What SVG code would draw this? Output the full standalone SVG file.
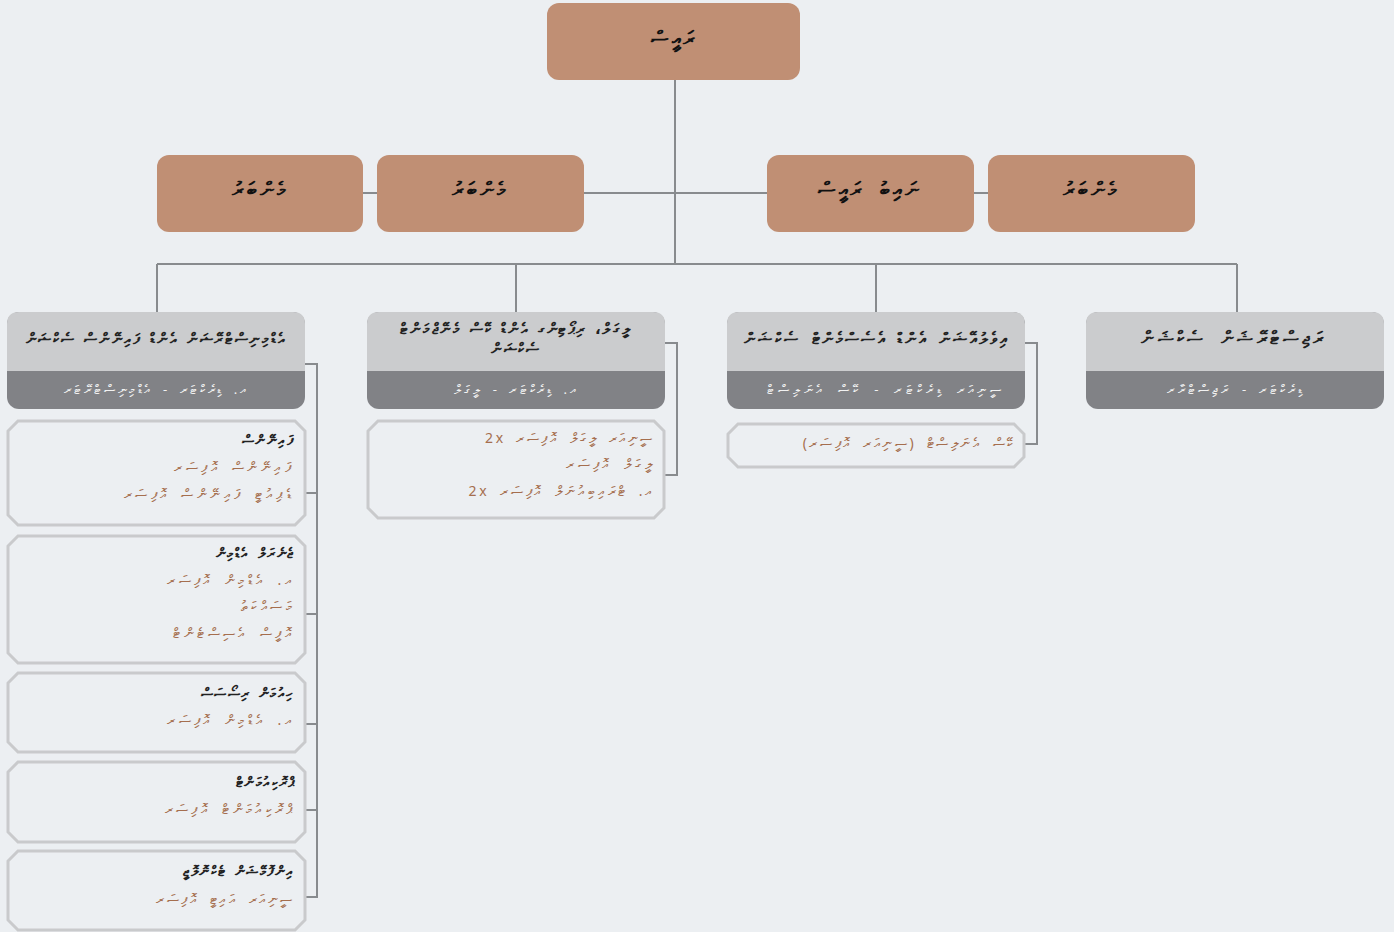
<svg xmlns="http://www.w3.org/2000/svg" width="1394" height="932" viewBox="0 0 1394 932">
<style>
.bg{fill:#ECEFF2}
.node{fill:#C08F74}
.t{font-family:"Noto Sans","DejaVu Sans",sans-serif;direction:rtl}
.nt{font-size:20px;font-weight:bold;fill:#111;text-anchor:middle;letter-spacing:3px;word-spacing:6px}
.hd{fill:#CBCCCE}
.band{fill:#818286}
.ht{font-size:15px;font-weight:bold;fill:#222;text-anchor:middle;letter-spacing:1.7px;word-spacing:3px}
.st{font-size:13px;fill:#F2F2F2;text-anchor:middle;letter-spacing:2.6px;word-spacing:4px}
.lb{fill:#ECEFF2;stroke:#C9CACC;stroke-width:3}
.lh{font-size:14px;font-weight:bold;fill:#222;text-anchor:start;letter-spacing:1.5px;word-spacing:3px}
.li{font-size:14px;fill:#A56E4E;text-anchor:start;letter-spacing:3.4px;word-spacing:4px}
.c{fill:none;stroke:#888B8E;stroke-width:2}
</style>
<rect class="bg" x="0" y="0" width="1394" height="932"/>

<g id="connectors">
<path class="c" d="M675 80 V264"/>
<path class="c" d="M584 193 H767"/>
<path class="c" d="M363 193 H377"/>
<path class="c" d="M974 193 H988"/>
<path class="c" d="M157 264 H1237"/>
<path class="c" d="M157 264 V312 M516 264 V312 M876 264 V312 M1237 264 V312"/>
<path class="c" d="M305 364 H317 V897 H305 M305 493 H317 M305 614 H317 M305 724 H317 M305 810 H317"/>
<path class="c" d="M665 343 H677 V475 H664"/>
<path class="c" d="M1025 343 H1037 V444 H1024"/>
</g>

<g id="n-raees">
<rect class="node" x="547" y="3" width="253" height="77" rx="12"/>
<text class="t nt" x="674" y="45">ރައީސް</text>
</g>
<g id="n-member1">
<rect class="node" x="157" y="155" width="206" height="77" rx="12"/>
<text class="t nt" x="260" y="196">މެންބަރު</text>
</g>
<g id="n-member2">
<rect class="node" x="377" y="155" width="207" height="77" rx="12"/>
<text class="t nt" x="480" y="196">މެންބަރު</text>
</g>
<g id="n-vp">
<rect class="node" x="767" y="155" width="207" height="77" rx="12"/>
<text class="t nt" x="870" y="196">ނައިބު  ރައީސް</text>
</g>
<g id="n-member3">
<rect class="node" x="988" y="155" width="207" height="77" rx="12"/>
<text class="t nt" x="1091" y="196">މެންބަރު</text>
</g>

<g id="s-admin">
<rect class="band" x="7" y="312" width="298" height="97" rx="12"/>
<path class="hd" d="M7 371 V324 Q7 312 19 312 H293 Q305 312 305 324 V371 Z"/>
<text class="t ht" x="156" y="344">އެޑްމިނިސްޓްރޭޝަން އެންޑް ފައިނޭންސް ސެކްޝަން</text>
<text class="t st" x="156" y="394">އ. ޑިރެކްޓަރ - އެޑްމިނިސްޓްރޭޓަރ</text>
</g>
<g id="s-legal">
<rect class="band" x="367" y="312" width="298" height="97" rx="12"/>
<path class="hd" d="M367 371 V324 Q367 312 379 312 H653 Q665 312 665 324 V371 Z"/>
<text class="t ht" x="516" y="334">ލީގަލް، ރިޕޯޓިންގ އެންޑް ކޭސް މެނޭޖްމަންޓް</text>
<text class="t ht" x="516" y="354">ސެކްޝަން</text>
<text class="t st" x="516" y="394">އ. ޑިރެކްޓަރ - ލީގަލް</text>
</g>
<g id="s-eval">
<rect class="band" x="727" y="312" width="298" height="97" rx="12"/>
<path class="hd" d="M727 371 V324 Q727 312 739 312 H1013 Q1025 312 1025 324 V371 Z"/>
<text class="t ht" x="876" y="344" style="font-size:16px;letter-spacing:2.6px;word-spacing:4px">އިވެލުއޭޝަން އެންޑް އެސެސްމެންޓް ސެކްޝަން</text>
<text class="t st" x="886" y="394" style="letter-spacing:3.8px;word-spacing:5px">ސީނިއަރ ޑިރެކްޓަރ - ކޭސް އެނަލިސްޓް</text>
</g>
<g id="s-reg">
<rect class="band" x="1086" y="312" width="298" height="97" rx="12"/>
<path class="hd" d="M1086 371 V324 Q1086 312 1098 312 H1372 Q1384 312 1384 324 V371 Z"/>
<text class="t ht" x="1234" y="344" style="font-size:18px;letter-spacing:3.4px;word-spacing:6px">ރަޖިސްޓްރޭޝަން ސެކްޝަން</text>
<text class="t st" x="1236" y="394" style="letter-spacing:3px">ޑިރެކްޓަރ - ރަޖިސްޓްރާރ</text>
</g>

<g id="l-finance">
<polygon class="lb" points="18,421 295,421 305,431 305,515 295,525 18,525 8,515 8,431"/>
<text class="t lh" x="295" y="445">ފައިނޭންސް</text>
<text class="t li" x="295" y="472">ފައިނޭންސް އޮފިސަރ</text>
<text class="t li" x="295" y="499">ޑެޕިއުޓީ ފައިނޭންސް އޮފިސަރ</text>
</g>
<g id="l-general">
<polygon class="lb" points="18,536 295,536 305,546 305,653 295,663 18,663 8,653 8,546"/>
<text class="t lh" x="295" y="558">ޖެނެރަލް އެޑްމިން</text>
<text class="t li" x="295" y="585">އ. އެޑްމިން އޮފިސަރ</text>
<text class="t li" x="295" y="611">މަސައްކަތު</text>
<text class="t li" x="295" y="638">އޮފީސް އެސިސްޓެންޓް</text>
</g>
<g id="l-hr">
<polygon class="lb" points="18,673 295,673 305,683 305,742 295,752 18,752 8,742 8,683"/>
<text class="t lh" x="295" y="698">ހިއުމަން ރިސޯސަސް</text>
<text class="t li" x="295" y="725">އ. އެޑްމިން އޮފިސަރ</text>
</g>
<g id="l-proc">
<polygon class="lb" points="18,762 295,762 305,772 305,832 295,842 18,842 8,832 8,772"/>
<text class="t lh" x="295" y="787">ޕްރޮކިއުމަންޓް</text>
<text class="t li" x="295" y="814">ޕްރޮކިއުމަންޓް އޮފިސަރ</text>
</g>
<g id="l-it">
<polygon class="lb" points="18,851 295,851 305,861 305,920 295,930 18,930 8,920 8,861"/>
<text class="t lh" x="295" y="876">އިންފޮމޭޝަން ޓެކްނޮލޮޖީ</text>
<text class="t li" x="295" y="904" style="letter-spacing:2.6px">ސީނިއަރ އައިޓީ އޮފިސަރ</text>
</g>

<g id="l-legal">
<polygon class="lb" points="378,421 654,421 664,431 664,508 654,518 378,518 368,508 368,431"/>
<text class="t li" x="655" y="443" style="letter-spacing:2.6px">ސީނިއަރ ލީގަލް އޮފިސަރ 2x</text>
<text class="t li" x="655" y="469">ލީގަލް އޮފިސަރ</text>
<text class="t li" x="655" y="496" style="letter-spacing:2.8px">އ. ޓްރައިބިއުނަލް އޮފިސަރ 2x</text>
</g>
<g id="l-eval">
<polygon class="lb" points="738,424 1014,424 1024,434 1024,457 1014,467 738,467 728,457 728,434"/>
<text class="t li" x="1016" y="448" style="letter-spacing:2.6px">ކޭސް އެނަލިސްޓް (ސީނިއަރ އޮފިސަރ)</text>
</g>
</svg>
